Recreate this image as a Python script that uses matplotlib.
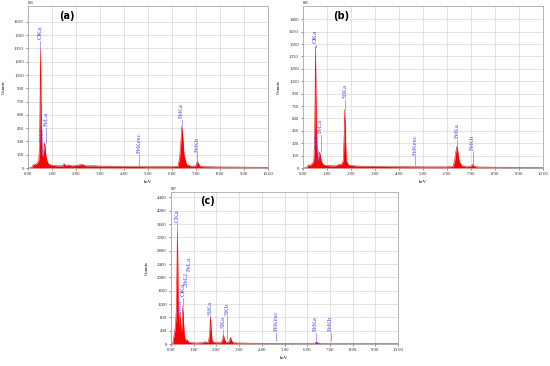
import matplotlib
matplotlib.use('Agg')
import matplotlib.pyplot as plt
import numpy as np

# Spektren (keV, Counts)
spec_a = [(0.0, 0), (0.15, 5), (0.2, 30), (0.25, 40), (0.3, 35), (0.35, 50), (0.4, 60),
          (0.45, 90), (0.48, 250), (0.5, 700), (0.52, 1340), (0.54, 800), (0.56, 400),
          (0.59, 200), (0.62, 130), (0.65, 180), (0.68, 285), (0.71, 250), (0.74, 150),
          (0.78, 90), (0.85, 45), (1.0, 30), (1.2, 25), (1.45, 25), (1.5, 50), (1.53, 40),
          (1.57, 30), (1.7, 35), (1.8, 25), (1.9, 25), (2.25, 40), (2.32, 35), (2.4, 25),
          (2.7, 25), (3.0, 22), (3.5, 20), (4.0, 18), (4.5, 17), (5.0, 15), (5.5, 15),
          (6.0, 15), (6.25, 20), (6.32, 120), (6.37, 300), (6.41, 470), (6.45, 350),
          (6.5, 150), (6.6, 40), (6.8, 20), (7.0, 25), (7.05, 70), (7.08, 60), (7.15, 25),
          (7.3, 15), (8.0, 12), (9.0, 10), (10.0, 8)]

spec_b = [(0.0, 0), (0.15, 5), (0.2, 30), (0.25, 40), (0.3, 30), (0.35, 45), (0.4, 60),
          (0.45, 90), (0.48, 300), (0.5, 800), (0.52, 1470), (0.54, 900), (0.56, 400),
          (0.59, 180), (0.62, 100), (0.65, 130), (0.69, 190), (0.72, 160), (0.76, 80),
          (0.85, 40), (1.0, 30), (1.3, 25), (1.45, 35), (1.5, 45), (1.6, 40), (1.68, 90),
          (1.71, 350), (1.74, 705), (1.77, 400), (1.8, 90), (1.9, 35), (2.2, 25), (2.5, 22),
          (3.0, 20), (3.5, 18), (4.0, 16), (4.5, 15), (5.0, 14), (5.5, 14), (6.0, 14),
          (6.25, 18), (6.32, 90), (6.37, 200), (6.41, 262), (6.45, 200), (6.5, 90),
          (6.6, 30), (6.8, 15), (7.0, 20), (7.05, 42), (7.09, 35), (7.15, 18), (7.3, 12),
          (8.0, 10), (9.0, 8), (10.0, 6)]

spec_c = [(0.0, 0), (0.08, 30), (0.12, 200), (0.16, 350), (0.2, 600), (0.23, 1000),
          (0.26, 2200), (0.28, 3380), (0.3, 2400), (0.32, 900), (0.34, 500), (0.36, 700),
          (0.39, 950), (0.42, 600), (0.45, 350), (0.48, 500), (0.5, 800), (0.52, 1130),
          (0.55, 700), (0.58, 300), (0.62, 150), (0.66, 100), (0.7, 140), (0.74, 90),
          (0.8, 50), (0.9, 40), (1.1, 30), (1.4, 40), (1.5, 70), (1.55, 50), (1.65, 60),
          (1.7, 300), (1.74, 820), (1.77, 450), (1.81, 80), (1.95, 40), (2.2, 40),
          (2.27, 120), (2.31, 270), (2.35, 150), (2.4, 60), (2.5, 50), (2.58, 100),
          (2.62, 200), (2.66, 120), (2.72, 40), (3.0, 30), (3.5, 25), (4.0, 22), (4.5, 20),
          (5.0, 18), (5.5, 17), (6.0, 16), (6.3, 20), (6.38, 50), (6.44, 45), (6.55, 18),
          (7.0, 15), (8.0, 12), (9.0, 10), (10.0, 8)]

# Peak-Beschriftungen: Name, Energie, Linie unten, Text unten
labels_a = [('OKa', 0.52, 1340, 1455), ('FeLl', 0.58, 150, 300), ('FeLa', 0.75, 285, 470),
            ('FeKesc', 4.64, 25, 165), ('FeKa', 6.40, 470, 560), ('FeKb', 7.05, 75, 185)]
labels_b = [('OKa', 0.53, 1470, 1510), ('FeLl', 0.61, 100, 240), ('FeLa', 0.74, 190, 420),
            ('SiKa', 1.74, 705, 845), ('FeKesc', 4.67, 40, 160), ('FeKa', 6.42, 262, 360),
            ('FeKb', 7.07, 42, 220)]
labels_c = [('CKa', 0.27, 3380, 3670), ('NKa', 0.40, 950, 930), ('OKa', 0.52, 1130, 1430),
            ('FeLl', 0.66, 1700, 1780), ('FeLa', 0.80, 2150, 2200), ('SiKa', 1.74, 820, 880),
            ('SKa', 2.31, 270, 480), ('SKb', 2.48, 140, 880), ('FeKesc', 4.63, 100, 380),
            ('FeKa', 6.38, 50, 380), ('FeKb', 7.04, 100, 380)]

panels = [
    ('(a)', '003', spec_a, labels_a, np.arange(0, 1651, 150), 1830,
     [28 / 550, 1 - 168 / 366, 240 / 550, 162 / 366]),
    ('(b)', '005', spec_b, labels_b, np.arange(0, 1801, 150), 1960,
     [303 / 550, 1 - 168 / 366, 240 / 550, 162 / 366]),
    ('(c)', '007', spec_c, labels_c, np.arange(0, 4401, 400), 4560,
     [171 / 550, 1 - 344 / 366, 227 / 550, 152 / 366]),
]

fig = plt.figure(figsize=(5.5, 3.66), dpi=100)

for tag, name, spec, labels, yticks, ytop, pos in panels:
    ax = fig.add_axes(pos)
    x, y = zip(*spec)
    ax.fill_between(x, y, 0, color='#ff0000', lw=0)
    ax.plot(x, y, color='#ff0000', lw=0.4)
    ax.set_xlim(0, 10)
    ax.set_ylim(0, ytop)
    ax.set_xticks(np.arange(0, 10.1, 1))
    ax.set_xticklabels(['%.2f' % v for v in np.arange(0, 10.1, 1)])
    ax.set_yticks(yticks)
    ax.grid(True, color='#d8d8d8', lw=0.5)
    ax.set_axisbelow(True)
    ax.tick_params(labelsize=3.5, length=1.5, width=0.4, pad=1.5, colors='#333333')
    for s in ax.spines.values():
        s.set_color('#aaaaaa')
        s.set_linewidth(0.6)
    for t in ax.get_xticklabels() + ax.get_yticklabels():
        t.set_family('Liberation Serif')
    ax.set_xlabel('keV', fontsize=3.5, family='Liberation Serif', labelpad=3)
    ax.set_ylabel('Counts', fontsize=3.5, family='Liberation Serif', labelpad=6)
    ax.text(0, 1.005, name, transform=ax.transAxes, fontsize=2.8,
            family='Liberation Serif', va='bottom')
    ax.text(0.16, 0.94, tag, transform=ax.transAxes, fontsize=7,
            fontweight='bold', va='center', ha='center')
    for lab, e, y0, y1 in labels:
        ax.plot([e, e], [y0, y1 - ytop * 0.01], color='#7f7fff', lw=0.5)
        ax.text(e, y1, lab, rotation=90, ha='center', va='bottom', fontsize=5,
                family='Liberation Serif', color='#4a4aff')

plt.savefig('out.png', dpi=100)
